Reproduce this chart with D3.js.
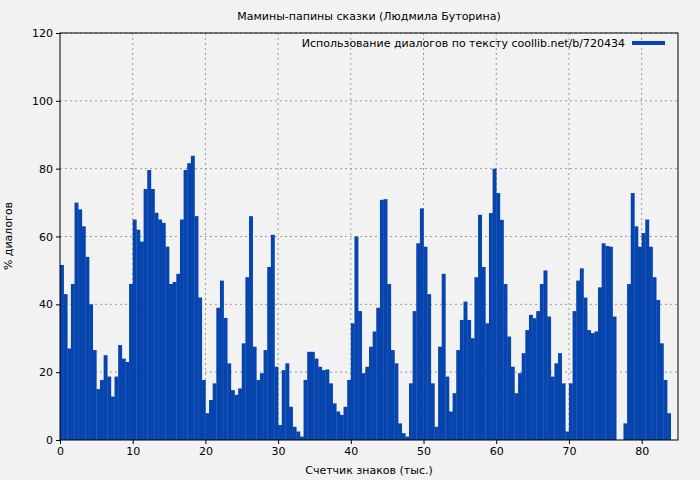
<!DOCTYPE html>
<html><head><meta charset="utf-8">
<script src="https://cdn.jsdelivr.net/npm/d3@7"></script>
<style>body{margin:0;background:#f2f2f2;font-family:"DejaVu Sans",sans-serif;}</style>
</head><body><div id="chart"></div>
<script>
// sample positions (тыс. знаков), step 0.5
const step = 0.5;
const values = [51.6,43,27,46,70,68,63,54,40,26.5,15,17.7,25,18.7,12.8,18.7,28,24,23,46,
  65,62,58.5,74,79.6,74,67,65,64,57,46,46.6,49,65,79.6,81.6,83.8,66,42,17.7,
  7.9,11.8,16.7,39,47,36,22.6,14.7,13.3,15.2,28.5,48,66,27.5,17.7,19.7,26.5,51,60.5,21.6,
  4.4,20.6,22.6,9.8,3.9,2.5,1,17.7,26,26,24,21.6,20.6,20.8,16.7,10.8,8.4,7.4,9.8,17.7,
  34.4,60,38,19.7,21.6,27.5,32,39,70.8,71,46,26.5,22.6,4.9,2,1,16.7,38,58,68.3,
  57,43,16.7,3.9,27.5,49,18.7,8.4,13.8,26.5,35.4,40.8,35.4,30,48,66.4,51,34.4,66.9,80,
  72.8,64.9,46,30.5,21.6,13.8,19.7,25.6,32.4,36.9,35.9,38,46,50,36.4,18.7,22.6,25.6,16.7,2.5,
  16.7,38,47,50.6,42,32.4,31.5,32,45,58,57.2,57,36.4,0,0,4.9,46,72.8,63,57,
  61,65,57,48,41.3,28.5,17.7,7.9];
const xTicks = [0,10,20,30,40,50,60,70,80];
const yTicks = [0,20,40,60,80,100,120];
const title = "Мамины-папины сказки (Людмила Буторина)";
const legendLabel = "Использование диалогов по тексту coollib.net/b/720434";

const W = 700, H = 480;
const margin = {top: 33, right: 22, bottom: 40, left: 60};
const width = W - margin.left - margin.right, height = H - margin.top - margin.bottom;
const color = "#0645ad";

const svg = d3.select("#chart").append("svg").attr("width", W).attr("height", H)
  .style("font-family", "'DejaVu Sans',sans-serif");
const g = svg.append("g").attr("transform", `translate(${margin.left},${margin.top})`);

const x = d3.scaleLinear().domain([0, 85]).range([0, width]);
const y = d3.scaleLinear().domain([0, 120]).range([height, 0]);

// grid
g.append("g").selectAll("line").data(xTicks.slice(1)).join("line")
  .attr("x1", d => x(d)).attr("x2", d => x(d)).attr("y1", 0).attr("y2", height)
  .attr("stroke", "#999").attr("stroke-dasharray", "2,3");
g.append("g").selectAll("line").data(yTicks.slice(1)).join("line")
  .attr("x1", 0).attr("x2", width).attr("y1", d => y(d)).attr("y2", d => y(d))
  .attr("stroke", "#999").attr("stroke-dasharray", "2,3");

// bars
g.append("g").selectAll("rect").data(values).join("rect")
  .attr("x", (d, i) => x(i * step))
  .attr("width", x(step) - x(0) + 0.3)
  .attr("y", d => y(d))
  .attr("height", d => height - y(d))
  .attr("fill", color);

// frame
g.append("rect").attr("width", width).attr("height", height)
  .attr("fill", "none").attr("stroke", "#000");

const xa = g.append("g").attr("transform", `translate(0,${height})`)
  .call(d3.axisBottom(x).tickValues(xTicks).tickSize(4).tickSizeOuter(0));
const ya = g.append("g").call(d3.axisLeft(y).tickValues(yTicks).tickSize(4).tickSizeOuter(0));
[xa, ya].forEach(a => { a.select(".domain").remove(); a.selectAll("text").attr("font-size", 11).attr("font-family", "'DejaVu Sans',sans-serif"); });

svg.append("text").attr("x", 369).attr("y", 20).attr("text-anchor", "middle")
  .attr("font-size", 11).text(title);
svg.append("text").attr("x", 369).attr("y", 474).attr("text-anchor", "middle")
  .attr("font-size", 11).text("Счетчик знаков (тыс.)");
svg.append("text").attr("transform", "translate(12,236) rotate(-90)").attr("text-anchor", "middle")
  .attr("font-size", 11).text("% диалогов");

// legend
svg.append("text").attr("x", 625).attr("y", 47).attr("text-anchor", "end")
  .attr("font-size", 11).text(legendLabel);
svg.append("rect").attr("x", 632).attr("y", 41).attr("width", 33).attr("height", 4).attr("fill", color);
</script></body></html>
